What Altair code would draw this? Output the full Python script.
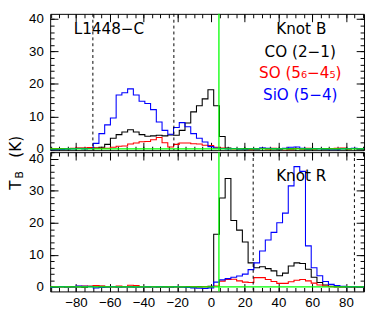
import altair as alt
import pandas as pd

# channel velocities (km/s)
velocity = [-95.3, -91.9, -88.5, -85.1, -81.7, -78.3, -74.9, -71.5, -68.1, -64.7,
            -61.3, -57.9, -54.5, -51.1, -47.7, -44.3, -40.9, -37.5, -34.1, -30.7,
            -27.3, -23.9, -20.5, -17.1, -13.7, -10.3, -6.9, -3.5, -0.1, 3.3,
            6.7, 10.1, 13.5, 16.9, 20.3, 23.7, 27.1, 30.5, 33.9, 37.3,
            40.7, 44.1, 47.5, 50.9, 54.3, 57.7, 61.1, 64.5, 67.9, 71.3,
            74.7, 78.1, 81.5, 84.9, 88.3, 91.7]

# Knot B spectra (K)
co_b = [0.1, 0.0, 0.1, 0.0, 0.1, 0.2, 0.2, 0.3, 0.3, 0.5,
        1.4, 3.3, 4.4, 5.2, 5.9, 5.2, 4.4, 3.9, 4.0, 4.2,
        4.0, 4.3, 4.2, 5.7, 8.0, 11.4, 13.3, 15.4, 18.2, 13.3,
        3.8, 0.3, 0.1, 0.0, 0.1, -0.1, 0.0, 0.2, 0.1, 0.0,
        -0.1, 0.1, 0.0, 0.1, 0.0, -0.1, 0.0, 0.1, 0.0, 0.1,
        0.0, 0.1, 0.0, 0.1, 0.0, 0.0]
so_b = [0.0, 0.1, 0.0, 0.1, 0.2, 0.3, 0.3, 0.4, 0.3, 0.2,
        0.2, 0.5, 0.8, 0.9, 1.5, 1.8, 2.2, 2.3, 2.8, 3.5,
        1.9, 0.6, 1.4, 1.8, 1.8, 1.6, 1.5, 1.1, 1.0, 0.5,
        0.3, 0.1, 0.0, 0.1, -0.2, -0.3, 0.0, 0.1, -0.1, 0.2,
        0.0, -0.4, -0.3, 0.1, 0.0, 0.2, 0.0, 0.1, -0.1, 0.0,
        0.2, 0.3, 0.0, 0.1, 0.0, 0.1]
sio_b = [-0.3, -0.3, -0.2, 0.0, 0.0, 0.1, 0.0, 0.1, 1.7, 4.7,
         7.4, 9.5, 16.6, 17.3, 18.5, 16.6, 14.7, 14.0, 12.1, 8.3,
         5.7, 4.5, 6.6, 8.1, 6.8, 4.7, 3.3, 2.1, 0.7, 0.3,
         0.1, 0.0, 0.1, 0.0, -0.1, 0.1, 0.0, 0.3, 0.2, 0.1,
         0.0, 0.2, 0.5, 0.6, 0.2, 0.0, 0.1, 0.0, -0.1, -0.3,
         -0.3, 0.0, 0.1, 0.2, 0.0, 0.1]

# Knot R spectra (K)
co_r = [0.1, 0.0, 0.1, 0.0, 0.1, 0.0, -0.1, 0.2, 0.3, 0.2,
        0.0, 0.1, 0.0, 0.1, 0.0, 0.0, 0.1, 0.0, 0.1, 0.0,
        0.1, 0.0, 0.1, 0.0, 0.1, 0.0, 0.1, 0.1, 0.2, 16.4,
        27.7, 33.8, 20.7, 17.7, 14.0, 7.5, 6.0, 6.3, 5.7, 5.0,
        3.5, 4.3, 6.5, 7.5, 7.3, 5.5, 3.0, 1.4, 0.6, 0.2,
        0.1, 0.0, 0.1, 0.0, 0.1, 0.0]
so_r = [0.0, 0.1, 0.0, 0.1, 0.0, 0.2, 0.3, 0.2, 0.4, 0.3,
        0.1, 0.0, 0.3, 0.1, 0.5, 0.4, 0.1, 0.0, 0.1, 0.0,
        0.0, 0.1, 0.0, 0.1, 0.0, 0.1, 0.0, 0.1, 0.0, 0.3,
        1.8, 2.3, 2.4, 1.9, 1.5, 1.4, 2.9, 2.9, 2.3, 1.7,
        1.1, 1.1, 1.6, 2.1, 2.3, 1.9, 1.2, 0.6, 0.3, 0.1,
        0.0, 0.1, 0.0, 0.0, 0.1, 0.0]
sio_r = [-0.2, 0.0, 0.1, 0.0, 0.0, 0.3, 0.2, 0.1, -0.3, -0.2,
         0.0, 0.1, 0.0, 0.0, 0.1, 0.0, 0.0, 0.1, 0.0, 0.1,
         0.0, 0.0, 0.1, 0.0, -0.2, -0.3, -0.4, -0.5, -0.3, 1.5,
         2.2, 2.6, 3.0, 3.4, 4.0, 5.4, 7.5, 11.2, 14.6, 17.0,
         20.0, 23.0, 31.5, 37.5, 36.0, 12.8, 6.0, 3.5, 1.7, 0.8,
         0.4, 0.2, 0.0, 0.1, 0.0, 0.1]

V_SYS = 4.7
dash_b = [-70, -22]
dash_r = [25, 85]

notes_b_text = ["L1448\u2212C", "Knot B", "CO (2\u22121)", "SO (5\u2086\u22124\u2085)", "SiO (5\u22124)"]
notes_b_x = [-60.5, 53.5, 52.9, 52.9, 52.9]
notes_b_y = [36.9, 36.9, 29.95, 23.3, 16.7]
notes_b_color = ["black", "black", "black", "#ff0000", "#0000ff"]
notes_r_text = ["Knot R"]
notes_r_x = [53.5]
notes_r_y = [34.5]
notes_r_color = ["black"]

X_DOMAIN = [-95.3, 90.7]
W = 320
X_MAJOR = [-80, -60, -40, -20, 0, 20, 40, 60, 80]
X_MINOR = list(range(-95, 91, 5))
Y_MAJOR = [0, 10, 20, 30, 40]
Y_MINOR = list(range(0, 43, 2))
LABEL_FONT = "Liberation Sans"
TEXT_FONT = "DejaVu Sans"


def xs(axis, field="v"):
    return alt.X(f"{field}:Q", scale=alt.Scale(domain=X_DOMAIN, nice=False, zero=False), axis=axis)


def ys(axis, dom, field="T"):
    return alt.Y(f"{field}:Q", scale=alt.Scale(domain=dom, nice=False, zero=False), axis=axis)


def tick_axis(orient, offset, values, size):
    return alt.Axis(orient=orient, offset=offset, values=values, tickSize=size, ticks=True,
                    labels=False, domain=False, grid=False, title=None, tickColor="black",
                    tickWidth=1, minExtent=0)


def panel(co, so, sio, ydom, height, dashes, notes, x_labels, ytitle):
    df = pd.DataFrame({"v": velocity, "co": co, "so": so, "sio": sio})
    dummy = pd.DataFrame({"v": [0.0], "T": [0.0]})

    def carrier(xa, ya):
        return alt.Chart(dummy).mark_point(opacity=0, size=0).encode(x=xs(xa), y=ys(ya, ydom))

    xlab = None
    if x_labels:
        xlab = alt.Axis(orient="bottom", values=X_MAJOR, ticks=False, tickSize=0, labels=True,
                        labelFont=LABEL_FONT, labelFontSize=13.5, labelColor="black",
                        labelPadding=4, domain=False, grid=False, title=None,
                        labelFlush=False, labelOverlap=False, minExtent=0)
    ylab = alt.Axis(orient="left", values=Y_MAJOR, ticks=False, tickSize=0, labels=True,
                    labelFont=LABEL_FONT, labelFontSize=13.5, labelColor="black",
                    labelPadding=7, domain=False, grid=False, title=None,
                    labelFlush=False, labelOverlap=False, minExtent=0)

    layers = [
        carrier(xlab, ylab),
        carrier(tick_axis("top", -height, X_MAJOR, 8), tick_axis("right", -W, Y_MAJOR, 8)),
        carrier(tick_axis("top", -height, X_MINOR, 4), tick_axis("right", -W, Y_MINOR, 4)),
        carrier(tick_axis("bottom", -height, X_MAJOR, 8), tick_axis("left", -W, Y_MAJOR, 8)),
        carrier(tick_axis("bottom", -height, X_MINOR, 4), tick_axis("left", -W, Y_MINOR, 4)),
    ]
    for field, color in [("co", "black"), ("so", "#ff0000"), ("sio", "#0000ff")]:
        layers.append(
            alt.Chart(df).mark_line(interpolate="step", color=color, strokeWidth=1.1, clip=True)
            .encode(x=xs(None), y=ys(None, ydom, field))
        )
    layers.append(
        alt.Chart(pd.DataFrame({"T": [0.0]})).mark_rule(color="#00ff00", strokeWidth=1.3)
        .encode(y=ys(None, ydom))
    )
    layers.append(
        alt.Chart(pd.DataFrame({"v": [V_SYS]})).mark_rule(color="#00ff00", strokeWidth=1.3)
        .encode(x=xs(None))
    )
    layers.append(
        alt.Chart(pd.DataFrame({"v": dashes})).mark_rule(color="black", strokeWidth=1, strokeDash=[3, 3])
        .encode(x=xs(None))
    )
    ndf = pd.DataFrame({"x": notes[0], "y": notes[1], "text": notes[2], "color": notes[3]})
    layers.append(
        alt.Chart(ndf).mark_text(font=TEXT_FONT, fontSize=15.5, align="center", baseline="middle")
        .encode(x=xs(None, "x"), y=ys(None, ydom, "y"), text="text:N",
                color=alt.Color("color:N", scale=None))
    )
    if ytitle:
        for txt, size, xp, yp in [("T", 15.5, -30, 33.5), ("B", 11, -27.5, 23), ("(K)", 15.5, -30, -5.5)]:
            layers.append(
                alt.Chart(pd.DataFrame({"t": [txt]})).mark_text(
                    font=TEXT_FONT, fontSize=size, angle=270, align="center",
                    baseline="alphabetic", color="black")
                .encode(text="t:N", x=alt.value(xp), y=alt.value(yp))
            )
    return alt.layer(*layers).resolve_axis(x="independent", y="independent").properties(
        width=W, height=height)


top = panel(co_b, so_b, sio_b, [-0.4, 41.6], 139, dash_b,
            (notes_b_x, notes_b_y, notes_b_text, notes_b_color), False, False)
bottom = panel(co_r, so_r, sio_r, [-1.4, 42.0], 142, dash_r,
               (notes_r_x, notes_r_y, notes_r_text, notes_r_color), True, True)

chart = alt.vconcat(top, bottom, spacing=2, bounds="flush").resolve_scale(
    x="independent", y="independent").configure_view(stroke="black", strokeWidth=1).properties(
    padding={"left": 0, "top": 0, "right": 0, "bottom": 0})

chart.save("out.html", embed_options={"renderer": "svg", "actions": False})
